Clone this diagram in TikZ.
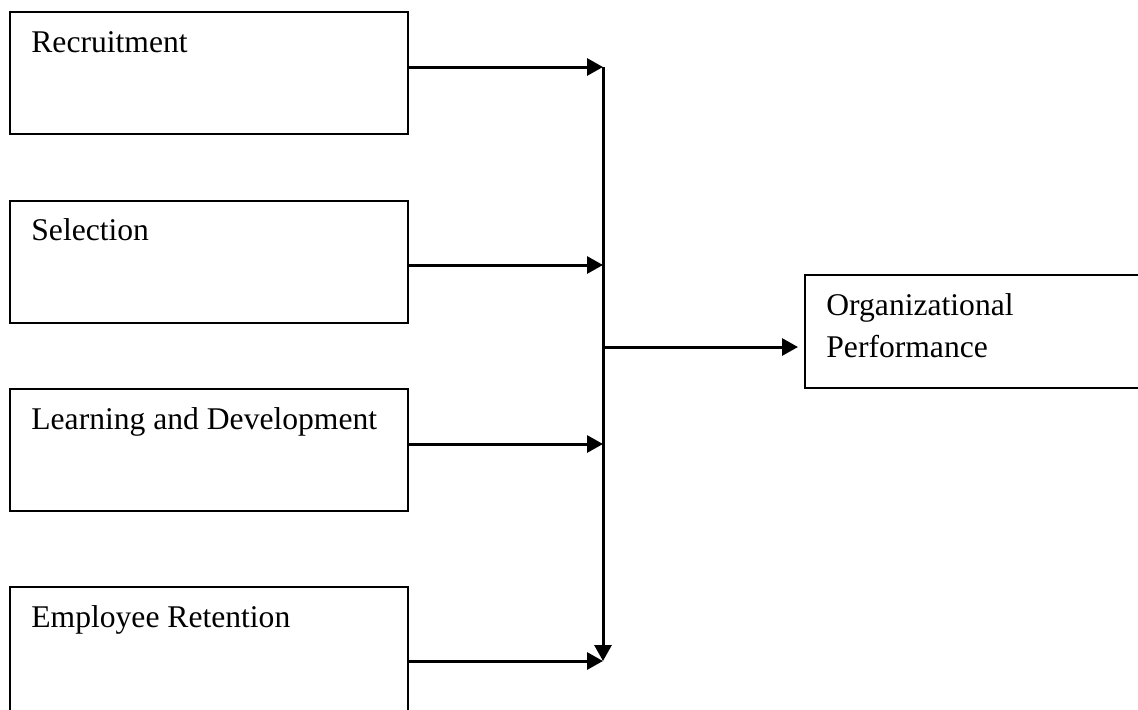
\documentclass[tikz,border=0pt]{standalone}
\usepackage{fontspec}
\setmainfont{Liberation Serif}
\usetikzlibrary{arrows.meta, positioning}
\tikzstyle{box} = [rectangle, draw, line width=1pt, inner sep=0pt, outer sep=0pt, minimum width=199pt, minimum height=61pt]
\tikzstyle{lbl} = [anchor=base west, inner sep=0pt, xshift=10.5pt, yshift=-20pt, font=\fontsize{15.8}{21}\selectfont, align=left]
\tikzstyle{line} = [draw, line width=1.5pt, -{Triangle[length=8pt, width=8.5pt]}]

\begin{document}
\begin{tikzpicture}[x=0.5pt, y=-0.5pt]
			\clip (0,0) rectangle (1138,709);
			\node [box, label={[lbl]north west:Recruitment}] (rec) at (209, 73) {};
			\node [box, label={[lbl]north west:Selection}] (sel) at (209, 261.5) {};
			\node [box, label={[lbl]north west:Learning and Development}] (lad) at (209, 450) {};
			\node [box, minimum height=65pt, label={[lbl]north west:Employee Retention}] (ret) at (209, 652) {};
			\node [box, minimum width=177.5pt, minimum height=56.5pt, label={[lbl, yshift=-21pt]north west:Organizational\\Performance}] (org) at (982.5, 331.5) {};

			\coordinate (j1) at (603, 67);
			\coordinate (j2) at (603, 265);
			\coordinate (j3) at (603, 444);
			\coordinate (j4) at (603, 661);
			\coordinate (jo) at (603, 347);

			\path [line] (rec.east |- j1) -- (j1);
			\path [line] (sel.east |- j2) -- (j2);
			\path [line] (lad.east |- j3) -- (j3);
			\path [line] (ret.east |- j4) -- (j4);
			\path [line] (j1) -- (j4);
			\path [line, shorten >=3.5pt] (jo) -- (org.west |- jo);
		\end{tikzpicture}
\end{document}
